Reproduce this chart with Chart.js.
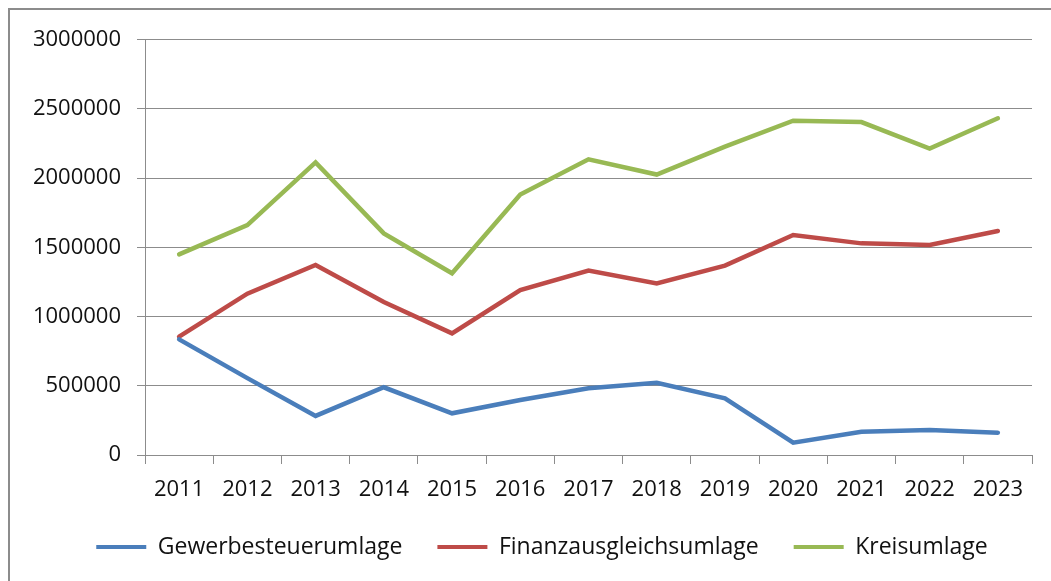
<!DOCTYPE html>
<html>
<head>
<meta charset="utf-8">
<script src="https://cdn.jsdelivr.net/npm/chart.js@4.4.1/dist/chart.umd.min.js"></script>
<style>
html,body{margin:0;padding:0;background:#fff;}
#wrap{position:relative;width:1051px;height:581px;}
canvas{display:block;}
</style>
</head>
<body>
<div id="wrap"><canvas id="c" width="1051" height="581"></canvas></div>
<script>
const categories = ["2011","2012","2013","2014","2015","2016","2017","2018","2019","2020","2021","2022","2023"];
const gewerbesteuerumlage = [835000, 555000, 282000, 489000, 301000, 397000, 482000, 522000, 409000, 89000, 168000, 180000, 161000];
const finanzausgleichsumlage = [854000, 1165000, 1372000, 1105000, 878000, 1191000, 1331000, 1239000, 1367000, 1588000, 1528000, 1516000, 1617000];
const kreisumlage = [1449000, 1660000, 2113000, 1600000, 1312000, 1880000, 2135000, 2025000, 2226000, 2414000, 2404000, 2212000, 2431000];
const seriesNames = ["Gewerbesteuerumlage", "Finanzausgleichsumlage", "Kreisumlage"];
const seriesColors = ["#4a7ebb", "#be4b48", "#98b954"];
const yTicks = [0, 500000, 1000000, 1500000, 2000000, 2500000, 3000000];

const FONT = "'Open Sans', Lato, sans-serif";

const frame = {
  id: 'frame',
  afterLayout(chart) {
    if (chart.legend) { chart.legend.left += 21; chart.legend.right += 21; }
  },
  afterDraw(chart) {
    const ctx = chart.ctx;
    ctx.save();
    ctx.strokeStyle = '#8c8c8c';
    ctx.lineWidth = 2;
    ctx.beginPath();
    ctx.moveTo(9, 581);
    ctx.lineTo(9, 9);
    ctx.lineTo(1051, 9);
    ctx.stroke();
    ctx.restore();
  }
};

const data = {
  labels: categories,
  datasets: [gewerbesteuerumlage, finanzausgleichsumlage, kreisumlage].map((vals, i) => ({
    label: seriesNames[i],
    data: vals,
    borderColor: seriesColors[i],
    backgroundColor: seriesColors[i],
    borderWidth: 4.5,
    pointRadius: 0,
    tension: 0,
    borderCapStyle: 'round',
    fill: false
  }))
};

new Chart(document.getElementById('c'), {
  type: 'line',
  data,
  plugins: [frame],
  options: {
    responsive: false,
    animation: false,
    devicePixelRatio: 1,
    layout: { padding: { left: 10, right: 19, top: 39.5, bottom: 12.5 } },
    plugins: {
      tooltip: { enabled: false },
      legend: {
        position: 'bottom',
        labels: {
          color: '#111',
          font: { family: FONT, size: 23 },
          boxWidth: 50,
          boxHeight: 4,
          padding: 35,
          generateLabels(chart) {
            const items = Chart.defaults.plugins.legend.labels.generateLabels(chart);
            items.forEach((it, i) => { it.lineWidth = 0; it.fillStyle = seriesColors[i]; it.strokeStyle = seriesColors[i]; });
            return items;
          }
        }
      }
    },
    scales: {
      x: {
        offset: true,
        grid: { offset: true, drawOnChartArea: false, drawTicks: true, tickLength: 9, color: '#8c8c8c' },
        border: { color: '#8c8c8c', width: 1 },
        ticks: { color: '#111', font: { family: FONT, size: 22 }, padding: 13, maxRotation: 0, autoSkip: false },
        afterFit(scale) { scale.height = 45.5; }
      },
      y: {
        min: 0,
        max: 3000000,
        afterBuildTicks(scale) { scale.ticks = yTicks.map(v => ({ value: v })); },
        grid: { color: '#8c8c8c', tickLength: 8, lineWidth: 1 },
        border: { color: '#8c8c8c', width: 1 },
        ticks: { color: '#111', font: { family: FONT, size: 22 }, padding: 16, callback: v => String(v) },
        afterFit(scale) { scale.width = 135; }
      }
    }
  }
});
</script>
</body>
</html>
